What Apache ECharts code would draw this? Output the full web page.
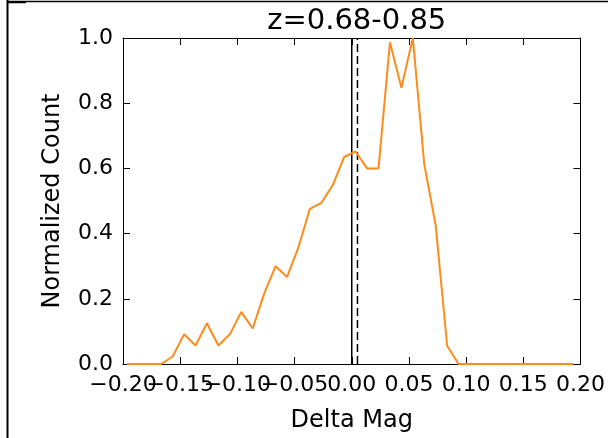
<!DOCTYPE html>
<html>
<head>
<meta charset="utf-8">
<script src="https://cdn.jsdelivr.net/npm/echarts@6/dist/echarts.min.js"></script>
<style>
html,body{margin:0;padding:0;background:#fff;}
#chart{width:608px;height:438px;}
</style>
</head>
<body>
<div id="chart"></div>
<script>
const titleText = "z=0.68-0.85";
const xLabel = "Delta Mag";
const yLabel = "Normalized Count";
const deltaMag = [-0.1966,-0.1866,-0.1766,-0.1666,-0.1566,-0.1466,-0.1366,-0.1266,-0.1166,-0.1066,
  -0.0966,-0.0866,-0.0766,-0.0666,-0.0566,-0.0466,-0.0366,-0.0266,-0.0166,-0.0066,
  0.0034,0.0134,0.0234,0.0334,0.0434,0.0534,0.0634,0.0734,0.0834,0.0934,
  0.1034,0.1134,0.1234,0.1334,0.1434,0.1534,0.1634,0.1734,0.1834,0.1934];
const normCount = [0,0,0,0,0.023,0.091,0.057,0.125,0.057,0.091,
  0.160,0.109,0.216,0.300,0.267,0.358,0.476,0.494,0.549,0.635,
  0.652,0.600,0.600,0.987,0.847,1.0,0.613,0.425,0.056,0,
  0,0,0,0,0,0,0,0,0,0];
const solidLineX = 0.0;
const dashedLineX = 0.005;
const vLineRange = [0, 1];
const xTicks = { min: -0.2, max: 0.2, step: 0.05 };
const yTicks = { min: 0, max: 1.0, step: 0.2 };

const FONT = 'DejaVu Sans';
const fmtNum = (v, d) => { const s = (Math.abs(v) < 1e-9 ? 0 : v).toFixed(d); return s.replace('-', '\u2212'); };
const isEvenStep = v => Math.round((v - xTicks.min) / xTicks.step) % 2 === 0;
const fmtXEven = v => isEvenStep(v) ? fmtNum(v, 2) : '';
const fmtXOdd = v => isEvenStep(v) ? '' : fmtNum(v, 2);
const fmtY = v => fmtNum(v, 1);

const axisCommon = {
  axisLine: { show: true, onZero: false, lineStyle: { color: '#000', width: 1 } },
  axisTick: { show: true, inside: true, length: 7, lineStyle: { color: '#000', width: 1 } },
  splitLine: { show: false }
};
const xLabelStyle = { fontFamily: FONT, fontSize: 22, color: '#000', margin: 10,
  hideOverlap: false, showMinLabel: true, showMaxLabel: true };

const chart = echarts.init(document.getElementById('chart'), null, { renderer: 'canvas' });
chart.setOption({
  animation: false,
  backgroundColor: '#fff',
  title: {
    text: titleText, left: 351.75, textAlign: 'center', top: 1,
    textStyle: { fontFamily: FONT, fontSize: 29, fontWeight: 'normal', color: '#000', lineHeight: 30 }
  },
  grid: { left: 123, right: 27.5, top: 38, bottom: 72, containLabel: false },
  xAxis: [
    Object.assign({}, axisCommon, {
      type: 'value', position: 'bottom', min: xTicks.min, max: xTicks.max, interval: xTicks.step,
      name: xLabel, nameLocation: 'middle', nameGap: 45,
      nameTextStyle: { fontFamily: FONT, fontSize: 24, color: '#000' },
      axisLabel: Object.assign({}, xLabelStyle, { formatter: fmtXEven })
    }),
    Object.assign({}, axisCommon, {
      type: 'value', position: 'top', min: xTicks.min, max: xTicks.max, interval: xTicks.step,
      axisLabel: { show: false }
    }),
    {
      type: 'value', position: 'bottom', offset: 0, min: xTicks.min, max: xTicks.max, interval: xTicks.step,
      axisLine: { show: false }, axisTick: { show: false }, splitLine: { show: false },
      axisLabel: Object.assign({}, xLabelStyle, { formatter: fmtXOdd })
    }
  ],
  yAxis: [
    Object.assign({}, axisCommon, {
      type: 'value', position: 'left', min: yTicks.min, max: yTicks.max, interval: yTicks.step,
      name: yLabel, nameLocation: 'middle', nameGap: 58, nameRotate: 90,
      nameTextStyle: { fontFamily: FONT, fontSize: 24, color: '#000' },
      axisLabel: { fontFamily: FONT, fontSize: 22, color: '#000', margin: 10, formatter: fmtY,
        showMinLabel: true, showMaxLabel: true }
    }),
    Object.assign({}, axisCommon, {
      type: 'value', position: 'right', min: yTicks.min, max: yTicks.max, interval: yTicks.step,
      axisLabel: { show: false }
    })
  ],
  series: [
    {
      type: 'line', xAxisIndex: 0, yAxisIndex: 0,
      data: vLineRange.map(y => [solidLineX, y]),
      symbol: 'none', lineStyle: { color: '#000', width: 1.5, type: 'solid' }, z: 2
    },
    {
      type: 'line', xAxisIndex: 0, yAxisIndex: 0,
      data: vLineRange.map(y => [dashedLineX, y]),
      symbol: 'none', lineStyle: { color: '#000', width: 1.5, type: [8, 4] }, z: 2
    },
    {
      type: 'line', xAxisIndex: 0, yAxisIndex: 0,
      data: deltaMag.map((x, i) => [x, normCount[i]]),
      symbol: 'none',
      lineStyle: { color: '#ff8c1a', width: 2 },
      z: 3
    }
  ],
  graphic: [
    { type: 'line', shape: { x1: 7.5, y1: 0, x2: 7.5, y2: 438 }, style: { stroke: '#000', lineWidth: 2 } },
    { type: 'line', shape: { x1: 7, y1: 1.5, x2: 608, y2: 1.5 }, style: { stroke: '#000', lineWidth: 1.5 } },
    { type: 'line', shape: { x1: 7, y1: 2.5, x2: 26, y2: 2.5 }, style: { stroke: '#000', lineWidth: 1.5 } }
  ]
});
</script>
</body>
</html>
